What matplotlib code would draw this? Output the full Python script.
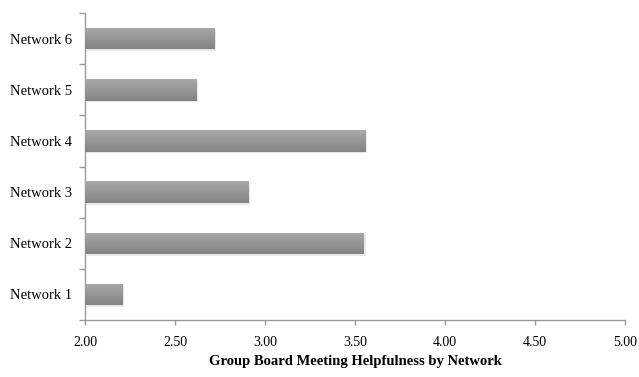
import numpy as np
import matplotlib
matplotlib.use("Agg")
import matplotlib.pyplot as plt
import matplotlib.patheffects as pe
from matplotlib.colors import LinearSegmentedColormap

# chart data
networks = ["Network 1", "Network 2", "Network 3", "Network 4", "Network 5", "Network 6"]
helpfulness = [2.21, 3.55, 2.91, 3.56, 2.62, 2.72]
x_ticks = [2.00, 2.50, 3.00, 3.50, 4.00, 4.50, 5.00]
x_min = 2.0

plt.rcParams['font.family'] = ['Liberation Serif', 'DejaVu Serif']

fig = plt.figure(figsize=(6.39, 3.77), dpi=100)
ax = fig.add_axes([0.133, 0.151, 0.845, 0.8145])

y = np.arange(len(networks))
widths = [v - x_min for v in helpfulness]
bars = ax.barh(y, widths, left=x_min, height=0.42, color='#979797', zorder=2,
               path_effects=[pe.SimplePatchShadow(offset=(1.2, -1.2), shadow_rgbFace='#d0d0d0', alpha=0.5),
                             pe.Normal()])

# vertical gradient on each bar, light on top, darker below
grad_cmap = LinearSegmentedColormap.from_list('g', ['#838383', '#a9a9a9'])
gradient = np.linspace(0, 1, 64).reshape(-1, 1)
for b in bars:
    x0, y0, w, h = b.get_x(), b.get_y(), b.get_width(), b.get_height()
    im = ax.imshow(gradient, cmap=grad_cmap, aspect='auto', origin='lower',
                   extent=(x0, x0 + w, y0, y0 + h), zorder=3, interpolation='bilinear')
    im.set_clip_path(b)

ax.set_xlim(x_min, 5.0)
ax.set_ylim(-0.5, len(networks) - 0.5)

ax.set_xticks(x_ticks)
ax.set_xticklabels([f"{t:.2f}" for t in x_ticks], fontsize=10)
ax.set_yticks(y)
ax.set_yticklabels(networks, fontsize=10.5)
ax.set_yticks(np.arange(len(networks) + 1) - 0.5, minor=True)

ax.tick_params(axis='y', which='major', length=0, pad=9)
ax.tick_params(axis='y', which='minor', length=4, width=1, color='#9a9a9a', direction='out')
ax.tick_params(axis='x', which='major', length=3.5, width=1, color='#9a9a9a', direction='out', pad=8)

for side in ['top', 'right']:
    ax.spines[side].set_visible(False)
for side in ['left', 'bottom']:
    ax.spines[side].set_color('#9a9a9a')
    ax.spines[side].set_linewidth(1)

ax.set_xlabel('Group Board Meeting Helpfulness by Network', fontsize=10.5, fontweight='bold', labelpad=4)

fig.savefig('out.png', dpi=100)
